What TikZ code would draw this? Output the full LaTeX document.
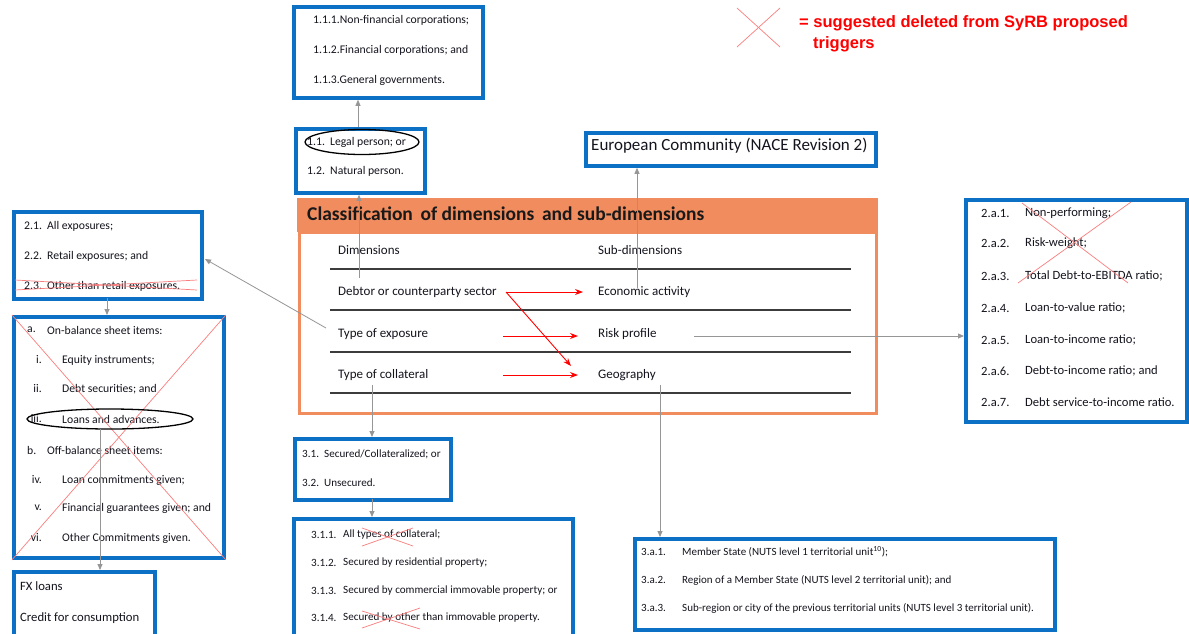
\documentclass[tikz,border=0pt]{standalone}
\usepackage{fontspec}
\setmainfont{Carlito}
\newfontfamily\arialfont{Liberation Sans}
\usetikzlibrary{arrows.meta,shapes.geometric}
\definecolor{boxblue}{RGB}{12,112,196}
\definecolor{orng}{RGB}{241,140,94}
\definecolor{lightred}{RGB}{250,125,125}
\definecolor{tblgray}{RGB}{60,60,60}
\definecolor{arrgray}{RGB}{150,150,150}
\definecolor{txtcol}{RGB}{20,20,30}
\tikzset{
  bluebox/.style={draw=boxblue, line width=3.8pt, fill=white, anchor=north west, inner sep=0pt},
  lbl/.style={anchor=west, inner sep=0pt, text=txtcol},
  rlbl/.style={anchor=east, inner sep=0pt, text=txtcol},
  garr/.style={draw=arrgray, line width=0.8pt, -{Triangle[length=6pt,width=5pt]}},
  rarr/.style={draw=red, line width=0.9pt, -{Stealth[length=8pt,width=6pt]}},
  xline/.style={draw=lightred, line width=0.7pt},
  tline/.style={draw=tblgray, line width=1.6pt},
  oval/.style={draw=black, line width=1.3pt, ellipse, fill=none},
  fA/.style={font=\fontsize{11.7}{13}\selectfont},
  fT/.style={font=\fontsize{13}{15}\selectfont},
  fR/.style={font=\fontsize{12.6}{14}\selectfont},
  fS/.style={font=\fontsize{11}{12}\selectfont},
  fM/.style={font=\fontsize{11.1}{13}\selectfont},
}
\begin{document}
\begin{tikzpicture}[x=1pt,y=-1pt]
\useasboundingbox (0,0) rectangle (1189,633);
\clip (0,0) rectangle (1189,633);
\fill[white] (0,0) rectangle (1189,633);

% ---------- legend ----------
\draw[xline] (737,8) -- (780,47);
\draw[xline] (780,8) -- (737,47);
\node[anchor=west, inner sep=0pt, text=red, font=\arialfont\bfseries\fontsize{16.5}{18}\selectfont] (legA) at (799,23) {= suggested deleted from SyRB proposed};
\node[anchor=west, inner sep=0pt, text=red, font=\arialfont\bfseries\fontsize{16.5}{18}\selectfont] (legB) at (813,44) {triggers};

% ---------- box A ----------
\node[bluebox, minimum width=189pt, minimum height=91pt] (boxA) at (292,5) {};
\node[lbl,fA] (a1) at (313,20) {1.1.1.Non-financial corporations;};
\node[lbl,fA] (a2) at (313,50) {1.1.2.Financial corporations; and};
\node[lbl,fA] (a3) at (313,80) {1.1.3.General governments.};

% ---------- box B ----------
\node[bluebox, minimum width=129pt, minimum height=64pt] (boxB) at (294,127) {};
\node[lbl,fA] (b1n) at (307,142) {1.1.};
\node[lbl,fA] (b1) at (330,142) {Legal person; or};
\node[lbl,fA] (b2n) at (307,171) {1.2.};
\node[lbl,fA] (b2) at (330,171) {Natural person.};
\node[oval, minimum width=114pt, minimum height=25pt] (ovB) at (362,142) {};

% ---------- European Community ----------
\node[bluebox, minimum width=290pt, minimum height=33pt] (boxEC) at (584,131) {};
\node[lbl, font=\fontsize{17}{19}\selectfont] (ec) at (591,146) {European Community (NACE Revision 2)};

% ---------- classification frame ----------
\draw[orng, line width=3pt] (299,232) rectangle (876,413);
\node[anchor=north west, inner sep=0pt, fill=orng, minimum width=581pt, minimum height=34pt] (hdr) at (297,198) {};
\node[anchor=west, inner sep=0pt, font=\bfseries\fontsize{19.5}{21}\selectfont, text=black!90] (hdrt) at (307,214) {Classification\, of dimensions\, and sub-dimensions};

\node[lbl,fT] (dimh) at (338,250) {Dimensions};
\node[lbl,fT] (subh) at (598,250) {Sub-dimensions};
\draw[tline] (330,269) -- (851,269);
\node[lbl,fT] (d1) at (338,292) {Debtor or counterparty sector};
\node[lbl,fT] (s1) at (598,292) {Economic activity};
\draw[tline] (330,310) -- (851,310);
\node[lbl,fT] (d2) at (338,334) {Type of exposure};
\node[lbl,fT] (s2) at (598,334) {Risk profile};
\draw[tline] (330,352) -- (851,352);
\node[lbl,fT] (d3) at (338,375) {Type of collateral};
\node[lbl,fT] (s3) at (598,375) {Geography};
\draw[tline] (330,393) -- (851,393);

% red arrows
\coordinate (r1a) at (506,292); \coordinate (r1b) at (583,292);
\coordinate (r2a) at (503,336); \coordinate (r2b) at (578,336);
\coordinate (r3a) at (503,375); \coordinate (r3b) at (578,375);
\coordinate (rdb) at (571,366);
\draw[rarr] (r1a) -- (r1b);
\draw[rarr] (r2a) -- (r2b);
\draw[rarr] (r3a) -- (r3b);
\draw[rarr] (r1a) -- (rdb);

% ---------- box C ----------
\node[bluebox, minimum width=188pt, minimum height=87pt] (boxC) at (12,210) {};
\node[lbl,fA] (c1n) at (24,226) {2.1.};
\node[lbl,fA] (c1) at (47,226) {All exposures;};
\node[lbl,fA] (c2n) at (24,256) {2.2.};
\node[lbl,fA] (c2) at (47,256) {Retail exposures; and};
\node[lbl,fA] (c3n) at (24,286) {2.3.};
\node[lbl,fA] (c3) at (47,286) {Other than retail exposures.};
\draw[xline] (15,280) -- (197,290);
\draw[xline] (15,290) -- (197,280);

% ---------- box D ----------
\node[bluebox, minimum width=210pt, minimum height=241pt] (boxD) at (12,315) {};
\node[lbl,fA] (dan) at (27,330) {a.};
\node[lbl,fA] (da) at (47,330) {On-balance sheet items:};
\node[rlbl,fA] (din1) at (42,360) {i.};
\node[lbl,fA] (di1) at (62,360) {Equity instruments;};
\node[rlbl,fA] (din2) at (42,389) {ii.};
\node[lbl,fA] (di2) at (62,389) {Debt securities; and};
\node[rlbl,fA] (din3) at (42,419) {iii.};
\node[lbl,fA] (di3) at (62,419) {Loans and advances.};
\node[lbl,fA] (dbn) at (27,450) {b.};
\node[lbl,fA] (db) at (47,450) {Off-balance sheet items:};
\node[rlbl,fA] (din4) at (42,480) {iv.};
\node[lbl,fA] (di4) at (62,480) {Loan commitments given;};
\node[rlbl,fA] (din5) at (42,508) {v.};
\node[lbl,fA] (di5) at (62,508) {Financial guarantees given; and};
\node[rlbl,fA] (din6) at (42,538) {vi.};
\node[lbl,fA] (di6) at (62,538) {Other Commitments given.};
\draw[xline] (boxD.north west) -- (boxD.south east);
\draw[xline] (boxD.north east) -- (boxD.south west);
\node[oval, minimum width=166pt, minimum height=20pt] (ovD) at (110,419) {};

% ---------- box E ----------
\node[bluebox, minimum width=141pt, minimum height=90pt] (boxE) at (12,570) {};
\node[lbl, font=\fontsize{12.7}{14}\selectfont] (e1) at (20,586) {FX loans};
\node[lbl, font=\fontsize{12.7}{14}\selectfont] (e2) at (20,618) {Credit for consumption};

% ---------- box F ----------
\node[bluebox, minimum width=221pt, minimum height=222pt] (boxF) at (964,198) {};
\foreach \k/\yy/\tt in {1/213/{Non-performing;},2/243/{Risk-weight;},3/276/{Total Debt-to-EBITDA ratio;},4/308/{Loan-to-value ratio;},5/340/{Loan-to-income ratio;},6/371/{Debt-to-income ratio; and},7/402/{Debt service-to-income ratio.}}{
  \node[lbl,fR] (fn\k) at (981,\yy) {2.a.\k.};
  \node[lbl,fR] (f\k) at (1025,\yy) {\tt};
}
\draw[xline] (1022,203) -- (1128,283);
\draw[xline] (1131,202) -- (1018,283);

% ---------- box 3.1 ----------
\node[bluebox, minimum width=156pt, minimum height=61pt] (boxG) at (293,437) {};
\node[lbl,fM] (g1n) at (302,454) {3.1.};
\node[lbl,fM] (g1) at (324,454) {Secured/Collateralized; or};
\node[lbl,fM] (g2n) at (302,483) {3.2.};
\node[lbl,fM] (g2) at (324,483) {Unsecured.};

% ---------- box 3.1.x ----------
\node[bluebox, minimum width=279pt, minimum height=140pt] (boxH) at (292,517) {};
\node[lbl,fM] (h1n) at (311,535) {3.1.1.};
\node[lbl,fM] (h1) at (343,535) {All types of collateral;};
\node[lbl,fM] (h2n) at (311,563) {3.1.2.};
\node[lbl,fM] (h2) at (343,563) {Secured by residential property;};
\node[lbl,fM] (h3n) at (311,591) {3.1.3.};
\node[lbl,fM] (h3) at (343,591) {Secured by commercial immovable property; or};
\node[lbl,fM] (h4n) at (311,618) {3.1.4.};
\node[lbl,fM] (h4) at (343,618) {Secured by other than immovable property.};
\draw[xline] (362,528) -- (413,546);
\draw[xline] (413,528) -- (362,546);
\draw[xline] (362,628) -- (420,608);
\draw[xline] (362,611) -- (420,629);

% ---------- box 3.a ----------
\node[bluebox, minimum width=420pt, minimum height=91pt] (boxI) at (633,537) {};
\node[lbl,fS] (i1n) at (641,552) {3.a.1.};
\node[lbl,fS] (i1) at (682,552) {Member State (NUTS level 1 territorial unit\textsuperscript{10});};
\node[lbl,fS] (i2n) at (641,580) {3.a.2.};
\node[lbl,fS] (i2) at (682,580) {Region of a Member State (NUTS level 2 territorial unit); and};
\node[lbl,fS] (i3n) at (641,608) {3.a.3.};
\node[lbl,fS] (i3) at (682,608) {Sub-region or city of the previous territorial units (NUTS level 3 territorial unit).};

% ---------- gray connectors ----------
\coordinate (cB) at (358,127);
\draw[garr] (cB) -- (cB |- boxA.south);
\coordinate (cDebt) at (359,278);
\draw[garr] (cDebt) -- (cDebt |- boxB.south);
\coordinate (cEco) at (637,288);
\draw[garr] (cEco) -- (cEco |- boxEC.south);
\coordinate (cExp) at (326,328);
\coordinate (cCin) at (205,259);
\draw[garr] (cExp) -- (cCin);
\coordinate (cRisk) at (694,336);
\draw[garr] (cRisk) -- (cRisk -| boxF.west);
\coordinate (cCol) at (372,385);
\draw[garr] (cCol) -- (cCol |- boxG.north);
\coordinate (cG) at (372,499);
\draw[garr] (cG) -- (cG |- boxH.north);
\coordinate (cGeo) at (660,385);
\draw[garr] (cGeo) -- (cGeo |- boxI.north);
\coordinate (cC) at (107,298);
\draw[garr] (cC) -- (cC |- boxD.north);
\coordinate (cD) at (100,429);
\draw[garr] (cD) -- (cD |- boxE.north);
\end{tikzpicture}
\end{document}
